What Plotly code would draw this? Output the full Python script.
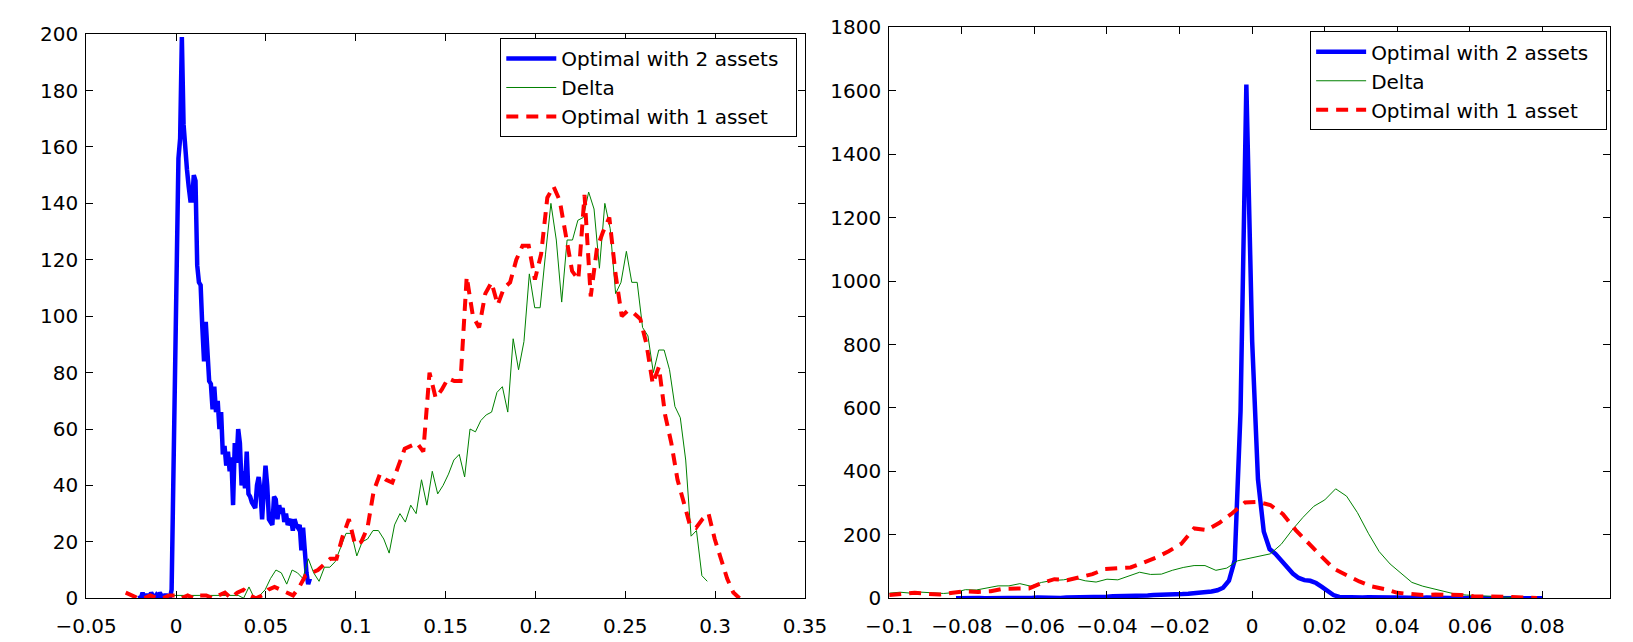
import numpy as np
import plotly.graph_objects as go

# ---------------- Left panel data ----------------
left_blue_x0, left_blue_step = -0.0205, 0.00095
left_blue = [1, 0, 2, 0, 1, 1, 0, 2, 1, 0, 1, 0, 2, 1, 0, 1, 1, 0,
             0, 3, 45, 90, 130, 156, 163, 199, 168, 157, 152, 146, 141, 141, 150, 148,
             118, 112, 111, 96, 84, 98, 83, 77, 76, 67, 75, 66, 70, 60, 66, 51,
             54, 47, 52, 45, 50, 33, 55, 48, 60, 55, 40, 45, 39, 52, 37, 36,
             34, 33, 32, 40, 43, 38, 28, 38, 47, 40, 28, 27, 26, 36, 35, 28,
             33, 30, 32, 27, 30, 26, 27, 28, 24, 28, 26, 25, 26, 17, 25, 16,
             9, 5, 7]

left_green_x0, left_green_step = -0.0014, 0.003
left_green = [1, 1, 1, 1, 1, 1, 1, 1, 1, 1, 1, 1, 1,
              0, 4, 0, 1, 3, 7, 10, 9, 5, 10, 9, 7, 14, 9, 6, 11, 11, 13, 18,
              23, 23, 15, 20, 21, 24, 24, 21, 16, 26, 30, 27, 33, 30, 42, 33,
              45, 37, 40, 44, 49, 51, 43, 60, 59, 63, 65, 66, 73, 75, 66, 92,
              81, 91, 115, 103, 103, 122, 140, 127, 105, 127, 127, 134, 135, 144, 138, 117,
              140, 131, 108, 112, 123, 112, 112, 96, 93, 80, 88, 88, 81, 68, 64, 49,
              22, 24, 8, 6]

left_red_x0, left_red_step = -0.028, 0.00345
left_red = [2, 1, 0, 0, 1, 0, 0, 1, 1, 0, 1, 0, 1, 1, 0, 1, 2, 0, 2, 3, 1, 0, 1, 3,
            4, 3, 2, 1, 4, 8, 9, 10, 12, 14, 14, 22, 28, 19, 20, 25, 38, 44, 42, 41,
            47, 53, 54, 55, 52, 80, 71, 74, 78, 77, 77, 114, 100, 96, 108, 112, 104, 110,
            112, 120, 125, 125, 113, 122, 142, 146, 141, 128, 116, 113, 143, 107, 124, 130,
            135, 115, 100, 102, 101, 99, 90, 76, 82, 65, 55, 42, 34, 26, 25, 28, 30, 21,
            14, 7, 2, 0]

left_xticks = [-0.05, 0, 0.05, 0.1, 0.15, 0.2, 0.25, 0.3, 0.35]
left_xlabels = ["\u22120.05", "0", "0.05", "0.1", "0.15", "0.2", "0.25", "0.3", "0.35"]
left_yticks = [0, 20, 40, 60, 80, 100, 120, 140, 160, 180, 200]

# ---------------- Right panel data ----------------
right_blue_x0, right_blue_step = -0.0816, 0.0016
right_blue = [0, 1, 0, 0, 1, 0, 1, 0, 1, 1, 1, 0, 1, 1, 2, 1, 1, 2, 1, 2,
              2, 2, 3, 2, 3, 5, 5, 6, 6, 7, 8, 8, 9, 9, 10, 10, 11, 11, 12, 13,
              14, 15, 17, 19, 21, 25, 33, 55, 120, 590, 1620, 810, 375, 210, 155, 140,
              118, 95, 78, 64, 57, 55, 48, 36, 24, 10, 4,
              3, 4, 3, 2, 3, 2, 2, 3, 2, 2, 1, 2, 2, 1, 2, 1, 1, 2, 1, 1,
              1, 0, 1, 1, 0, 1, 0, 1, 0, 0, 1, 0, 0, 1, 0]

right_green_x0, right_green_step = -0.1, 0.003
right_green = [16, 19, 16, 19, 17, 15, 18, 27, 26, 33, 39, 39, 46, 38, 50, 56,
               58, 64, 55, 51, 60, 58, 70, 82, 75, 76, 88, 97, 103, 103, 88, 95,
               118, 126, 134, 140, 170, 215, 255, 290, 310, 345, 322, 270, 205, 147, 108, 80,
               50, 38, 29, 20, 13, 10, 8, 6, 4, 2, 1]

right_red_x0, right_red_step = -0.1, 0.0035
right_red = [10, 15, 17, 14, 12, 17, 22, 20, 22, 30, 31, 31, 48, 60, 57, 68,
             76, 92, 93, 97, 112, 128, 148, 172, 220, 215, 238, 268, 302, 304, 294, 265,
             215, 172, 133, 93, 72, 53, 37, 29, 17, 12, 10, 12, 12, 10, 6, 6,
             4, 4, 2, 1]

right_xticks = [-0.1, -0.08, -0.06, -0.04, -0.02, 0, 0.02, 0.04, 0.06, 0.08]
right_xlabels = ["\u22120.1", "\u22120.08", "\u22120.06", "\u22120.04", "\u22120.02",
                 "0", "0.02", "0.04", "0.06", "0.08"]
right_yticks = [0, 200, 400, 600, 800, 1000, 1200, 1400, 1600, 1800]

names = ["Optimal with 2 assets", "Delta", "Optimal with 1 asset"]


def grid(x0, step, vals):
    return x0 + step * np.arange(len(vals))


W, H = 1633, 642
BLUE, GREEN, RED = "#0000FF", "#008000", "#FF0000"
PAD = "\u00a0\u00a0"

fig = go.Figure()

# left panel
fig.add_trace(go.Scatter(x=grid(left_blue_x0, left_blue_step, left_blue), y=left_blue,
                         mode="lines", name=names[0] + PAD, line=dict(color=BLUE, width=4.5),
                         xaxis="x", yaxis="y", legend="legend"))
fig.add_trace(go.Scatter(x=grid(left_green_x0, left_green_step, left_green), y=left_green,
                         mode="lines", name=names[1], line=dict(color=GREEN, width=1),
                         xaxis="x", yaxis="y", legend="legend"))
fig.add_trace(go.Scatter(x=grid(left_red_x0, left_red_step, left_red), y=left_red,
                         mode="lines", name=names[2], line=dict(color=RED, width=4, dash="12px,8px"),
                         xaxis="x", yaxis="y", legend="legend"))

# right panel
fig.add_trace(go.Scatter(x=grid(right_blue_x0, right_blue_step, right_blue), y=right_blue,
                         mode="lines", name=names[0] + PAD, line=dict(color=BLUE, width=4.5),
                         xaxis="x2", yaxis="y2", legend="legend2"))
fig.add_trace(go.Scatter(x=grid(right_green_x0, right_green_step, right_green), y=right_green,
                         mode="lines", name=names[1], line=dict(color=GREEN, width=1),
                         xaxis="x2", yaxis="y2", legend="legend2"))
fig.add_trace(go.Scatter(x=grid(right_red_x0, right_red_step, right_red), y=right_red,
                         mode="lines", name=names[2], line=dict(color=RED, width=4, dash="12px,8px"),
                         xaxis="x2", yaxis="y2", legend="legend2"))

axis_style = dict(showline=True, linecolor="black", linewidth=1, mirror="allticks",
                  ticks="inside", ticklen=7, tickcolor="black", tickwidth=1,
                  showgrid=False, zeroline=False,
                  tickfont=dict(family="DejaVu Sans", size=20, color="black"))

legend_style = dict(bgcolor="white", bordercolor="black", borderwidth=1, itemwidth=50,
                    tracegroupgap=0,
                    font=dict(family="DejaVu Sans", size=20, color="black"))

fig.update_layout(
    width=W, height=H,
    margin=dict(l=0, r=0, t=0, b=0),
    paper_bgcolor="white", plot_bgcolor="white",
    font=dict(family="DejaVu Sans", size=20, color="black"),
    xaxis=dict(domain=[57 / W, 800 / W], range=[-0.05, 0.35], anchor="y",
               tickvals=left_xticks, ticktext=left_xlabels, ticklabelstandoff=10, **axis_style),
    yaxis=dict(domain=[33 / H, 1 - 23 / H], range=[0, 200], anchor="x",
               tickvals=left_yticks, ticklabelstandoff=3, **axis_style),
    xaxis2=dict(domain=[887 / W, 1632 / W], range=[-0.1, 0.0986], anchor="y2",
                tickvals=right_xticks, ticktext=right_xlabels, ticklabelstandoff=10, **axis_style),
    yaxis2=dict(domain=[33 / H, 1 - 16 / H], range=[0, 1800], anchor="x2",
                tickvals=right_yticks, ticklabelstandoff=3, **axis_style),
    legend=dict(x=792 / W, xanchor="right", y=1 - 27 / H, yanchor="top", **legend_style),
    legend2=dict(x=1629 / W, xanchor="right", y=1 - 20 / H, yanchor="top", **legend_style),
)

fig.write_html("out.html")
